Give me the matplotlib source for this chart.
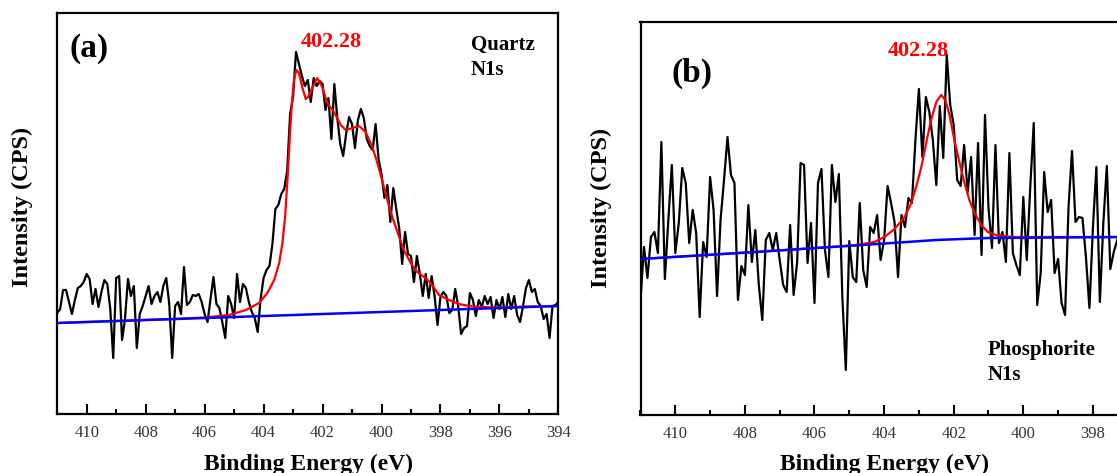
import numpy as np
import matplotlib
matplotlib.use("Agg")
import matplotlib.pyplot as plt
from matplotlib.ticker import FixedLocator

# ---------------- data ----------------
# Panel (a): Quartz N1s, 0.1 eV steps from 411.0 to 394.0 eV
a_energy = np.round(np.arange(411.0, 393.95, -0.1), 1)
a_raw = [101, 105, 124, 124, 112, 100, 114, 126, 128, 132, 140, 135, 110, 125, 107, 122, 134, 130, 105, 56,
         136, 138, 74, 95, 135, 118, 128, 66, 100, 108, 118, 128, 110, 118, 122, 112, 128, 136, 110, 56,
         108, 112, 100, 147,
         109, 112, 119, 118, 120, 112, 100, 92, 115, 137, 110, 106, 92, 76, 118, 110, 96, 140, 112, 130,
         126, 112, 102, 96, 82, 115, 136, 144, 148, 170, 205, 209, 220, 225, 243, 300, 317, 362, 350, 338,
         328, 334,
         312, 336, 328, 333, 330, 304, 316, 275, 330, 296, 270, 258, 280, 297, 290, 266, 294, 305, 296, 275,
         268, 264, 290, 255, 240, 216, 229, 192, 226, 205, 186, 150, 182, 160, 158, 132, 158, 140, 118, 140,
         116, 138,
         118, 89, 117, 122, 118, 101, 104, 125, 108, 80, 86, 88, 121, 114, 98, 114, 107, 118, 110, 117,
         96, 114, 105, 117, 97, 120, 105, 118, 99, 92, 108, 126, 134, 122, 125, 112, 108, 95, 100, 76,
         108, 109, 112]

a_fit_energy = [411.0, 409.0, 407.0, 406.0, 405.5, 405.17, 404.6, 404.15, 403.87, 403.64, 403.47, 403.36,
                403.27, 403.19, 403.11, 403.04, 402.97, 402.89, 402.80, 402.68, 402.57, 402.49, 402.35,
                402.18, 402.01, 401.84, 401.61, 401.38, 401.21, 400.99, 400.76, 400.54, 400.31, 400.14,
                399.92, 399.69, 399.46, 399.24, 399.01, 398.79, 398.56, 398.33, 398.05, 397.71, 397.37,
                397.03, 396.69, 396.0, 395.0, 394.0]
a_fit = [91, 93, 95, 96.5, 98, 99, 104, 111, 121, 134, 151, 171,
         197, 234, 277, 311, 334, 344, 341, 326, 315, 317, 326,
         336, 327, 311, 302, 289, 284, 286, 288, 282, 267, 251,
         227, 202, 182, 164, 151, 142, 137, 131, 119, 114, 110,
         108, 107, 106.5, 107.5, 108]
a_bg_energy = [411.0, 394.0]
a_bg = [91, 108]

# Panel (b): Phosphorite N1s, 0.1 eV steps from 411.0 eV
b_energy = np.round(np.arange(411.0, 397.15, -0.1), 1)
b_raw = [115, 168, 137, 178, 183, 162, 273, 136, 195, 250, 162, 192, 247, 232, 172, 205, 182, 98, 173, 158,
         238, 205, 119, 195, 235, 278, 240, 232, 115, 149, 140, 210, 153, 185,
         130, 95, 175, 182, 165, 182, 155, 130, 123, 190, 120, 152, 252, 250, 152, 192, 112, 232, 246, 165,
         138, 250, 213, 241, 118, 45, 174, 138, 133, 212, 145, 128, 188, 182, 200,
         155, 175, 229, 212, 193, 138, 200, 188, 217, 212, 275, 326, 258, 318, 303, 275, 230, 309, 257, 360,
         310, 290, 235, 229, 270, 223, 258, 180, 272, 160, 300, 207, 167,
         270, 172, 183, 153, 262, 162, 150, 140, 218, 155, 228, 292, 110, 142, 243, 203, 215, 142, 156, 112,
         100, 208, 264, 193, 198, 197, 158, 107, 187, 248, 113, 192, 249, 146, 163, 175, 185]

b_fit_energy = [411.0, 407.7, 405.5, 404.8, 404.28, 403.99, 403.70, 403.41, 403.22, 403.08, 402.93,
                402.79, 402.65, 402.50, 402.36, 402.24, 402.12, 401.98, 401.83, 401.69, 401.55, 401.40,
                401.21, 401.02, 400.78, 400.57, 400.28, 397.0]
b_fit = [156, 163, 168, 170, 173, 178, 186, 198, 212, 228, 248,
         272, 295, 313, 320, 315, 300, 275, 252, 232, 215, 202,
         190, 183, 180, 179, 178, 178]
b_bg_energy = [411.0, 407.7, 404.2, 402.5, 401.0, 397.0]
b_bg = [156, 163, 171, 175, 177, 178]

a_major_ticks = [410, 408, 406, 404, 402, 400, 398, 396, 394]
a_minor_ticks = [411, 409, 407, 405, 403, 401, 399, 397, 395]
b_major_ticks = [410, 408, 406, 404, 402, 400, 398]
b_minor_ticks = [411, 409, 407, 405, 403, 401, 399, 397]
peak_label = "402.28"

# ---------------- figure ----------------
W, H = 1117, 473
fig = plt.figure(figsize=(W / 100, H / 100), dpi=100)
serif = ["Liberation Serif", "DejaVu Serif"]


def box(l, r, t, b):
    return [l / W, 1 - b / H, (r - l) / W, (b - t) / H]


ax1 = fig.add_axes(box(57.2, 558.4, 13, 414))
ax2 = fig.add_axes(box(640.5, 640.5 + 17 * 34.8, 22, 415))

for ax, e, raw, fe, fit, be, bg, maj, mnr in [
    (ax1, a_energy, a_raw, a_fit_energy, a_fit, a_bg_energy, a_bg, a_major_ticks, a_minor_ticks),
    (ax2, b_energy, b_raw, b_fit_energy, b_fit, b_bg_energy, b_bg, b_major_ticks, b_minor_ticks),
]:
    ax.plot(e[:len(raw)], raw, color="black", lw=1.6, zorder=2)
    ax.plot(fe, fit, color="#ff0000", lw=1.6, zorder=3)
    ax.plot(be, bg, color="#0000ff", lw=1.8, zorder=4)
    ax.set_xlim(411.0, 394.0)
    ax.xaxis.set_major_locator(FixedLocator(maj))
    ax.xaxis.set_minor_locator(FixedLocator(mnr))
    ax.tick_params(axis="x", which="major", direction="in", length=7, width=1.5,
                   top=False, labelsize=12, pad=8, labelcolor="#333333")
    ax.tick_params(axis="x", which="minor", direction="in", length=3.5, width=1.5, top=False)
    ax.tick_params(axis="y", left=False, labelleft=False, right=False)
    for s in ax.spines.values():
        s.set_linewidth(1.6)
    for lab in ax.get_xticklabels():
        lab.set_fontfamily(serif)

ax1.set_ylim(0, 401)
ax2.set_ylim(0, 393)


def ftext(px, py, s, **kw):
    fig.text(px / W, 1 - py / H, s, family=serif, **kw)


# panel (a) annotations
ftext(89, 49, "(a)", fontsize=24, fontweight="bold", ha="center", va="center")
ftext(331, 42, peak_label, fontsize=16, fontweight="bold", color="#ff0000", ha="center", va="center")
ftext(471, 45, "Quartz", fontsize=15, fontweight="bold", ha="left", va="center")
ftext(471, 70, "N1s", fontsize=15, fontweight="bold", ha="left", va="center")
ftext(22.5, 207, "Intensity (CPS)", fontsize=17.5, fontweight="bold", rotation=90, ha="center", va="center")
ftext(308, 470, "Binding Energy (eV)", fontsize=17, fontweight="bold", ha="center", va="baseline")

# panel (b) annotations
ftext(692, 73, "(b)", fontsize=24, fontweight="bold", ha="center", va="center")
ftext(918, 51, peak_label, fontsize=16, fontweight="bold", color="#ff0000", ha="center", va="center")
ftext(988, 350, "Phosphorite", fontsize=15, fontweight="bold", ha="left", va="center")
ftext(988, 375, "N1s", fontsize=15, fontweight="bold", ha="left", va="center")
ftext(601, 208, "Intensity (CPS)", fontsize=17.5, fontweight="bold", rotation=90, ha="center", va="center")
ftext(885, 470, "Binding Energy (eV)", fontsize=17, fontweight="bold", ha="center", va="baseline")

fig.savefig("out.png", dpi=100)
